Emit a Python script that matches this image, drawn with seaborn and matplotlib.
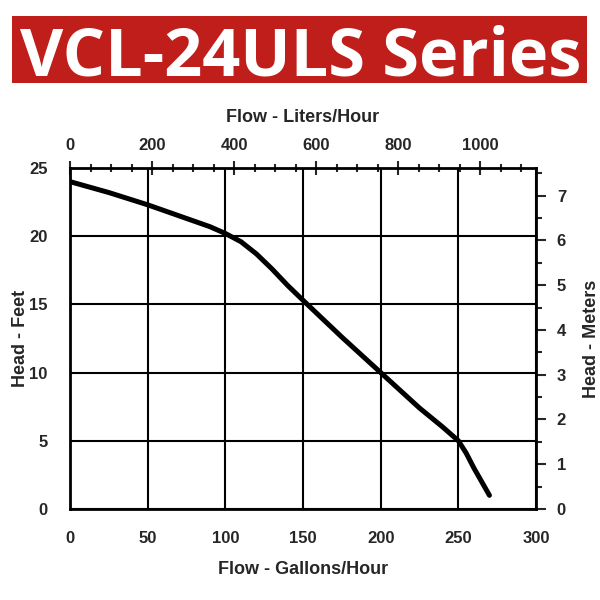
import matplotlib
matplotlib.use('Agg')
import matplotlib.pyplot as plt
import seaborn as sns
import pandas as pd
from matplotlib.patches import Rectangle
from matplotlib.ticker import MultipleLocator

# pump curve
flow_gph = [0, 25, 50, 75, 90, 100, 110, 120, 130, 140, 150, 175, 200, 225, 240, 250, 255, 260, 265, 270]
head_ft = [24.0, 23.2, 22.3, 21.3, 20.7, 20.2, 19.6, 18.7, 17.6, 16.4, 15.3, 12.6, 10.0, 7.4, 6.0, 5.0, 4.1, 3.0, 2.0, 1.0]

gal_ticks = [0, 50, 100, 150, 200, 250, 300]
ft_ticks = [0, 5, 10, 15, 20, 25]
liter_ticks = [0, 200, 400, 600, 800, 1000]
meter_ticks = [0, 1, 2, 3, 4, 5, 6, 7]

title = 'VCL-24ULS Series'

df = pd.DataFrame({'gph': flow_gph, 'ft': head_ft})

sns.set_style('white')
plt.rcParams['font.family'] = ['Liberation Sans', 'DejaVu Sans']
plt.rcParams['font.weight'] = 'bold'

fig = plt.figure(figsize=(6, 6), dpi=100)
ax = fig.add_axes([0.1167, 0.1517, 0.7767, 0.5683])

sns.lineplot(data=df, x='gph', y='ft', ax=ax, color='black', linewidth=3.6)

ax.set_xlim(0, 300)
ax.set_ylim(0, 25)
ax.set_xticks(gal_ticks)
ax.set_yticks(ft_ticks)
ax.xaxis.set_minor_locator(MultipleLocator(25))
ax.yaxis.set_minor_locator(MultipleLocator(2.5))
ax.grid(True, which='major', color='black', linewidth=1.5)
for s in ax.spines.values():
    s.set_color('black')
    s.set_linewidth(2)
ax.tick_params(which='both', direction='out', color='black', width=1.5, labelsize=12)
ax.tick_params(which='major', length=6, pad=10)
ax.tick_params(which='minor', length=4)
ax.set_xlabel('Flow - Gallons/Hour', fontsize=13, fontweight='bold', labelpad=11)
ax.set_ylabel('Head - Feet', fontsize=13, fontweight='bold', labelpad=0)

top = ax.secondary_xaxis('top', functions=(lambda g: g * 3.785, lambda l: l / 3.785))
top.set_xticks(liter_ticks)
top.xaxis.set_minor_locator(MultipleLocator(50))
top.tick_params(which='both', direction='inout', width=1.5, labelsize=12)
top.tick_params(which='major', length=10, pad=6)
top.tick_params(which='minor', length=6)
top.set_xlabel('Flow - Liters/Hour', fontsize=13, fontweight='bold', labelpad=11)

right = ax.secondary_yaxis('right', functions=(lambda f: f * 0.3048, lambda m: m / 0.3048))
right.set_yticks(meter_ticks)
right.yaxis.set_minor_locator(MultipleLocator(0.5))
right.tick_params(which='both', direction='out', width=1.5, labelsize=12)
right.tick_params(which='major', length=7, pad=8)
right.tick_params(which='minor', length=4)
right.set_ylabel('Head - Meters', fontsize=13, fontweight='bold', labelpad=12)

fig.patches.append(Rectangle((0.0195, 0.862), 0.9583, 0.1113, transform=fig.transFigure,
                             facecolor='#bf1e1b', edgecolor='none', zorder=0))
fig.text(0.5017, 0.875, title, ha='center', va='baseline', color='white',
         fontsize=48, fontweight='bold', family=['Open Sans', 'DejaVu Sans'])

fig.savefig('out.png', dpi=100)
